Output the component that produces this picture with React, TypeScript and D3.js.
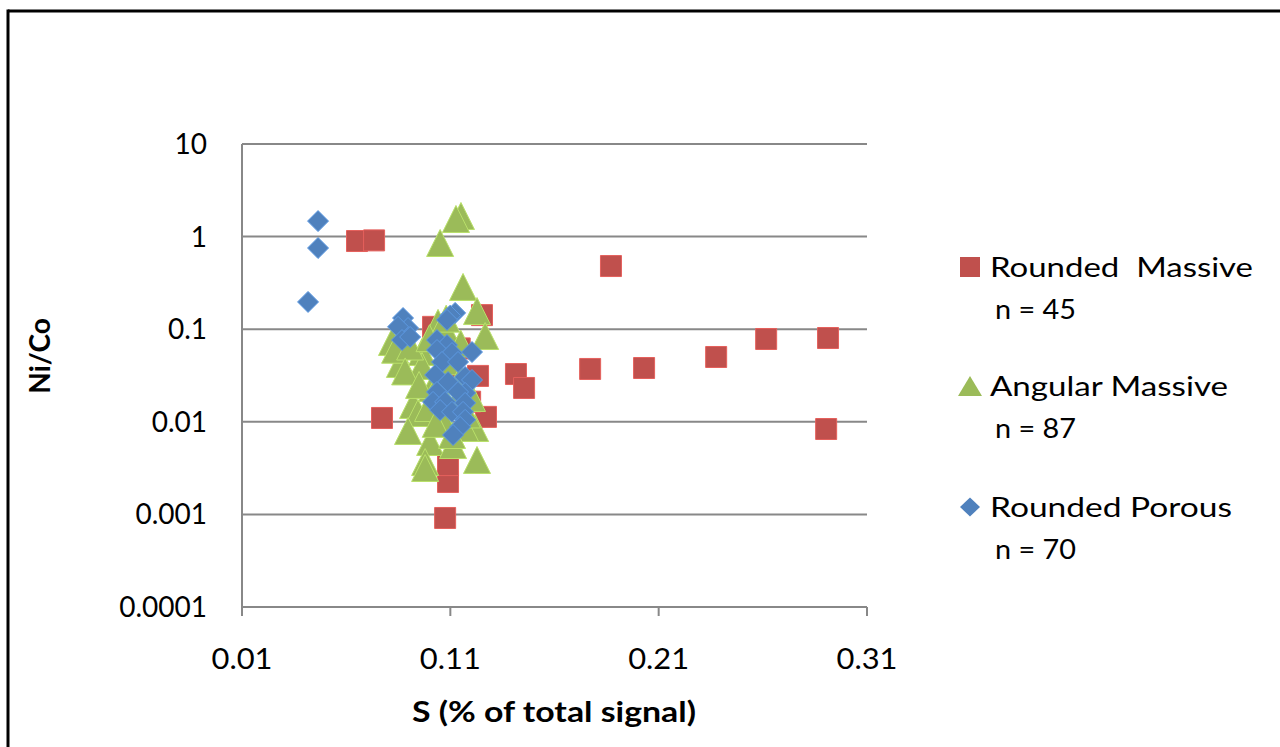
import React from "react";
import * as d3 from "d3";

// Ni/Co ratio against S signal share, three particle classes
const roundedMassive: [number, number][] = [
  [0.0652, 0.896], [0.0734, 0.91], [0.1871, 0.481], [0.1252, 0.142],
  [0.1233, 0.0313], [0.1415, 0.0328], [0.1454, 0.0232], [0.1771, 0.0372],
  [0.203, 0.0381], [0.2376, 0.0501], [0.2616, 0.0784], [0.2913, 0.0803],
  [0.2904, 0.00836], [0.1271, 0.0113], [0.0772, 0.011], [0.1075, 0.000915],
  [0.1089, 0.00224], [0.1089, 0.00341], [0.1017, 0.106], [0.1055, 0.0104],
  [0.1195, 0.0165], [0.1115, 0.028], [0.1085, 0.05], [0.1145, 0.062],
];

const angularMassive: [number, number][] = [
  [0.1151, 1.67], [0.1127, 1.55], [0.1051, 0.853], [0.1161, 0.286],
  [0.1228, 0.157], [0.1267, 0.0845], [0.082, 0.0728], [0.0858, 0.0421],
  [0.0964, 0.0567], [0.0964, 0.0401], [0.1041, 0.117], [0.0921, 0.0152],
  [0.0945, 0.01245], [0.0897, 0.00796], [0.1003, 0.00605], [0.0979, 0.00368],
  [0.0979, 0.00317], [0.1113, 0.00561], [0.1219, 0.00857], [0.1228, 0.00387],
  [0.1171, 0.00857], [0.1204, 0.0181], [0.1012, 0.0232], [0.0993, 0.0141],
  [0.1108, 0.0072], [0.1075, 0.1], [0.0835, 0.06], [0.0907, 0.065],
  [0.0883, 0.035], [0.11, 0.045], [0.115, 0.03], [0.104, 0.025],
  [0.112, 0.015], [0.106, 0.011], [0.118, 0.012], [0.1, 0.08],
  [0.115, 0.07], [0.108, 0.13], [0.095, 0.025], [0.103, 0.0095],
];

const roundedPorous: [number, number][] = [
  [0.0417, 0.197], [0.0465, 0.753], [0.0465, 1.47], [0.0873, 0.132],
  [0.0897, 0.103], [0.0849, 0.106], [0.0868, 0.0764], [0.0907, 0.0824],
  [0.1123, 0.15], [0.1099, 0.14], [0.1084, 0.126], [0.1036, 0.0764],
  [0.1084, 0.0675], [0.1036, 0.0596], [0.1108, 0.0553], [0.1204, 0.0567],
  [0.106, 0.0443], [0.1137, 0.0443], [0.1027, 0.032], [0.1171, 0.0305],
  [0.1204, 0.0283], [0.1089, 0.0269], [0.1036, 0.021], [0.1171, 0.0205],
  [0.1137, 0.021], [0.1017, 0.0164], [0.1075, 0.0164], [0.1171, 0.016],
  [0.1051, 0.0134], [0.1108, 0.0128], [0.1161, 0.0128], [0.1171, 0.0105],
  [0.1147, 0.0088], [0.1113, 0.0072],
];

const xTicks = [0.01, 0.11, 0.21, 0.31];
const yTicks = [0.0001, 0.001, 0.01, 0.1, 1, 10];
const yTickLabels = ["0.0001", "0.001", "0.01", "0.1", "1", "10"];

const legendItems = [
  { name: "Rounded  Massive", count: "n = 45", shape: "square", color: "#C0504D", width: 263 },
  { name: "Angular Massive", count: "n = 87", shape: "triangle", color: "#9BBB59", width: 238 },
  { name: "Rounded Porous", count: "n = 70", shape: "diamond", color: "#4F81BD", width: 242 },
];

const FONT = "Lato, 'Open Sans', sans-serif";
const GRID = "#888888";

function markerPath(shape: string, cx: number, cy: number, w: number, h: number) {
  const hw = w / 2;
  const hh = h / 2;
  const p = d3.path();
  if (shape === "square") {
    p.rect(cx - hw, cy - hh, w, h);
  } else if (shape === "triangle") {
    p.moveTo(cx, cy - hh);
    p.lineTo(cx + hw, cy + hh);
    p.lineTo(cx - hw, cy + hh);
    p.closePath();
  } else {
    p.moveTo(cx, cy - hh);
    p.lineTo(cx + hw, cy);
    p.lineTo(cx, cy + hh);
    p.lineTo(cx - hw, cy);
    p.closePath();
  }
  return p.toString();
}

export default function App() {
  const x = d3.scaleLinear().domain([0.01, 0.31]).range([242, 867]);
  const y = d3.scaleLog().domain([0.0001, 10]).range([607, 144]);
  const [x0, x1] = x.range();

  const series = [
    { data: roundedMassive, shape: "square", color: "#C0504D", w: 21, h: 21 },
    { data: angularMassive, shape: "triangle", color: "#9BBB59", w: 27, h: 27 },
    { data: roundedPorous, shape: "diamond", color: "#4F81BD", w: 21, h: 21 },
  ];

  const legendRows = [267, 386, 507];
  const legendMarkerSize: Record<string, [number, number]> = {
    square: [20, 20],
    triangle: [24, 20],
    diamond: [20, 19],
  };

  return (
    <svg
      width={1280}
      height={747}
      style={{ position: "absolute", left: 0, top: 0, background: "#fff" }}
    >
      <rect x={0} y={0} width={1280} height={747} fill="#fff" />
      {/* outer chart frame */}
      <line x1={8} y1={11} x2={1280} y2={11} stroke="#000" strokeWidth={3} />
      <line x1={8} y1={9.5} x2={8} y2={747} stroke="#000" strokeWidth={3} />

      {/* horizontal gridlines at each decade */}
      {yTicks.map((t) => (
        <line
          key={"g" + t}
          x1={x0}
          x2={x1}
          y1={y(t)}
          y2={y(t)}
          stroke={GRID}
          strokeWidth={2}
        />
      ))}
      {/* axes */}
      <line x1={x0} x2={x0} y1={y(10)} y2={y(0.0001)} stroke={GRID} strokeWidth={2} />
      {xTicks.map((t) => (
        <line
          key={"xt" + t}
          x1={x(t)}
          x2={x(t)}
          y1={y(0.0001)}
          y2={y(0.0001) + 9}
          stroke={GRID}
          strokeWidth={2}
        />
      ))}

      {/* tick labels */}
      {yTicks.map((t, i) => (
        <text
          key={"yl" + t}
          x={207}
          y={y(t)}
          dy="0.36em"
          textAnchor="end"
          fontFamily={FONT}
          fontSize={28}
          fill="#000"
        >
          {yTickLabels[i]}
        </text>
      ))}
      {xTicks.map((t) => (
        <text
          key={"xl" + t}
          x={x(t)}
          y={659}
          dy="0.36em"
          textAnchor="middle"
          fontFamily={FONT}
          fontSize={28}
          fill="#000"
          textLength={61}
          lengthAdjust="spacingAndGlyphs"
        >
          {d3.format(".2f")(t)}
        </text>
      ))}

      {/* axis titles */}
      <text
        x={554}
        y={712}
        dy="0.36em"
        textAnchor="middle"
        fontFamily={FONT}
        fontWeight="bold"
        fontSize={28}
        fill="#000"
        textLength={284}
        lengthAdjust="spacingAndGlyphs"
      >
        S (% of total signal)
      </text>
      <text
        transform="translate(40,356) rotate(-90)"
        dy="0.36em"
        textAnchor="middle"
        fontFamily={FONT}
        fontWeight="bold"
        fontSize={28}
        fill="#000"
      >
        Ni/Co
      </text>

      {/* data markers */}
      {series.map((s) => (
        <g key={s.shape}>
          {s.data.map(([vx, vy], i) => (
            <path
              key={i}
              d={markerPath(s.shape, x(vx), y(vy), s.w, s.h)}
              fill={s.color}
              stroke={d3.color(s.color)!.brighter(0.5).toString()}
              strokeWidth={1}
            />
          ))}
        </g>
      ))}

      {/* legend */}
      {legendItems.map((item, i) => {
        const cy = legendRows[i];
        const [mw, mh] = legendMarkerSize[item.shape];
        return (
          <g key={item.name}>
            <path d={markerPath(item.shape, 970, cy, mw, mh)} fill={item.color} />
            <text
              x={990}
              y={cy + 10}
              fontFamily={FONT}
              fontSize={26}
              fill="#000"
              textLength={item.width}
              lengthAdjust="spacingAndGlyphs"
              style={{ whiteSpace: "pre" }}
            >
              {item.name}
            </text>
            <text
              x={995}
              y={cy + 52}
              fontFamily={FONT}
              fontSize={26}
              fill="#000"
              textLength={81}
              lengthAdjust="spacingAndGlyphs"
            >
              {item.count}
            </text>
          </g>
        );
      })}
    </svg>
  );
}
